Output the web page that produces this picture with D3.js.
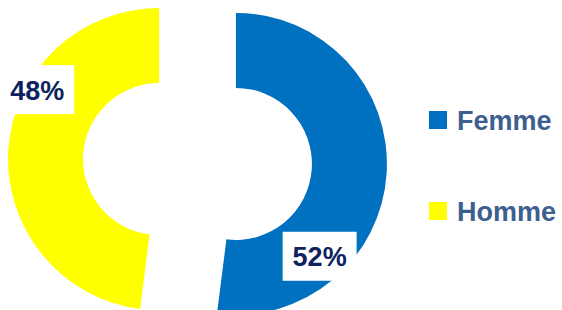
<!DOCTYPE html>
<html>
<head>
<meta charset="utf-8">
<script src="https://cdn.jsdelivr.net/npm/d3@7"></script>
<style>
  body { margin: 0; background: #fff; }
  svg { display: block; }
</style>
</head>
<body>
<svg class="canvas" width="562" height="310"></svg>
<script>
const categories = ["Femme", "Homme"];
const values = [52, 48];
const valueLabels = ["52%", "48%"];
const colors = ["#0070C0", "#FFFF00"];

const svg = d3.select(".canvas");
const width = 562;
const height = 310;

const cx = 197.5;
const cy = 161.5;
const outer = 151;
const inner = 76;
const explode = 38.5;

// where the % box sits inside each slice (fraction of the slice, radius)
const labelPos = [
  { frac: 0.737, r: 125 },
  { frac: 0.65, r: 140 },
];

const pie = d3.pie().sort(null).value((d) => d);
const arc = d3.arc().innerRadius(inner).outerRadius(outer);
const slices = pie(values);

const offset = (d) => {
  const mid = (d.startAngle + d.endAngle) / 2;
  return [cx + Math.sin(mid) * explode, cy - Math.cos(mid) * explode];
};

const graph = svg.append("g");

graph
  .selectAll("path")
  .data(slices)
  .enter()
  .append("path")
  .attr("d", arc)
  .attr("fill", (d, i) => colors[i])
  .attr("transform", (d) => `translate(${offset(d)})`);

// value labels with white boxes
const labels = graph
  .selectAll("g.lbl")
  .data(slices)
  .enter()
  .append("g")
  .attr("class", "lbl")
  .attr("transform", (d, i) => {
    const [ox, oy] = offset(d);
    const a = d.startAngle + (d.endAngle - d.startAngle) * labelPos[i].frac;
    const r = labelPos[i].r;
    return `translate(${ox + Math.sin(a) * r}, ${oy - Math.cos(a) * r})`;
  });

labels
  .append("rect")
  .attr("x", -37)
  .attr("y", -25)
  .attr("width", 74)
  .attr("height", 49)
  .attr("fill", "#fff");

labels
  .append("text")
  .attr("text-anchor", "middle")
  .attr("dy", "0.36em")
  .attr("font-family", "Liberation Sans, Arial, sans-serif")
  .attr("font-weight", "bold")
  .attr("font-size", 27)
  .attr("fill", "#0D2360")
  .text((d, i) => valueLabels[i]);

// legend
const legendY = d3.scalePoint().domain(categories).range([120, 211]);

const legend = svg
  .selectAll("g.legend")
  .data(categories)
  .enter()
  .append("g")
  .attr("class", "legend")
  .attr("transform", (d) => `translate(429, ${legendY(d)})`);

legend
  .append("rect")
  .attr("x", 0)
  .attr("y", -9)
  .attr("width", 18)
  .attr("height", 18)
  .attr("fill", (d, i) => colors[i]);

legend
  .append("text")
  .attr("x", 28)
  .attr("dy", "0.36em")
  .attr("font-family", "Liberation Sans, Arial, sans-serif")
  .attr("font-weight", "bold")
  .attr("font-size", 27)
  .attr("fill", "#3D5F90")
  .text((d) => d);
</script>
</body>
</html>
